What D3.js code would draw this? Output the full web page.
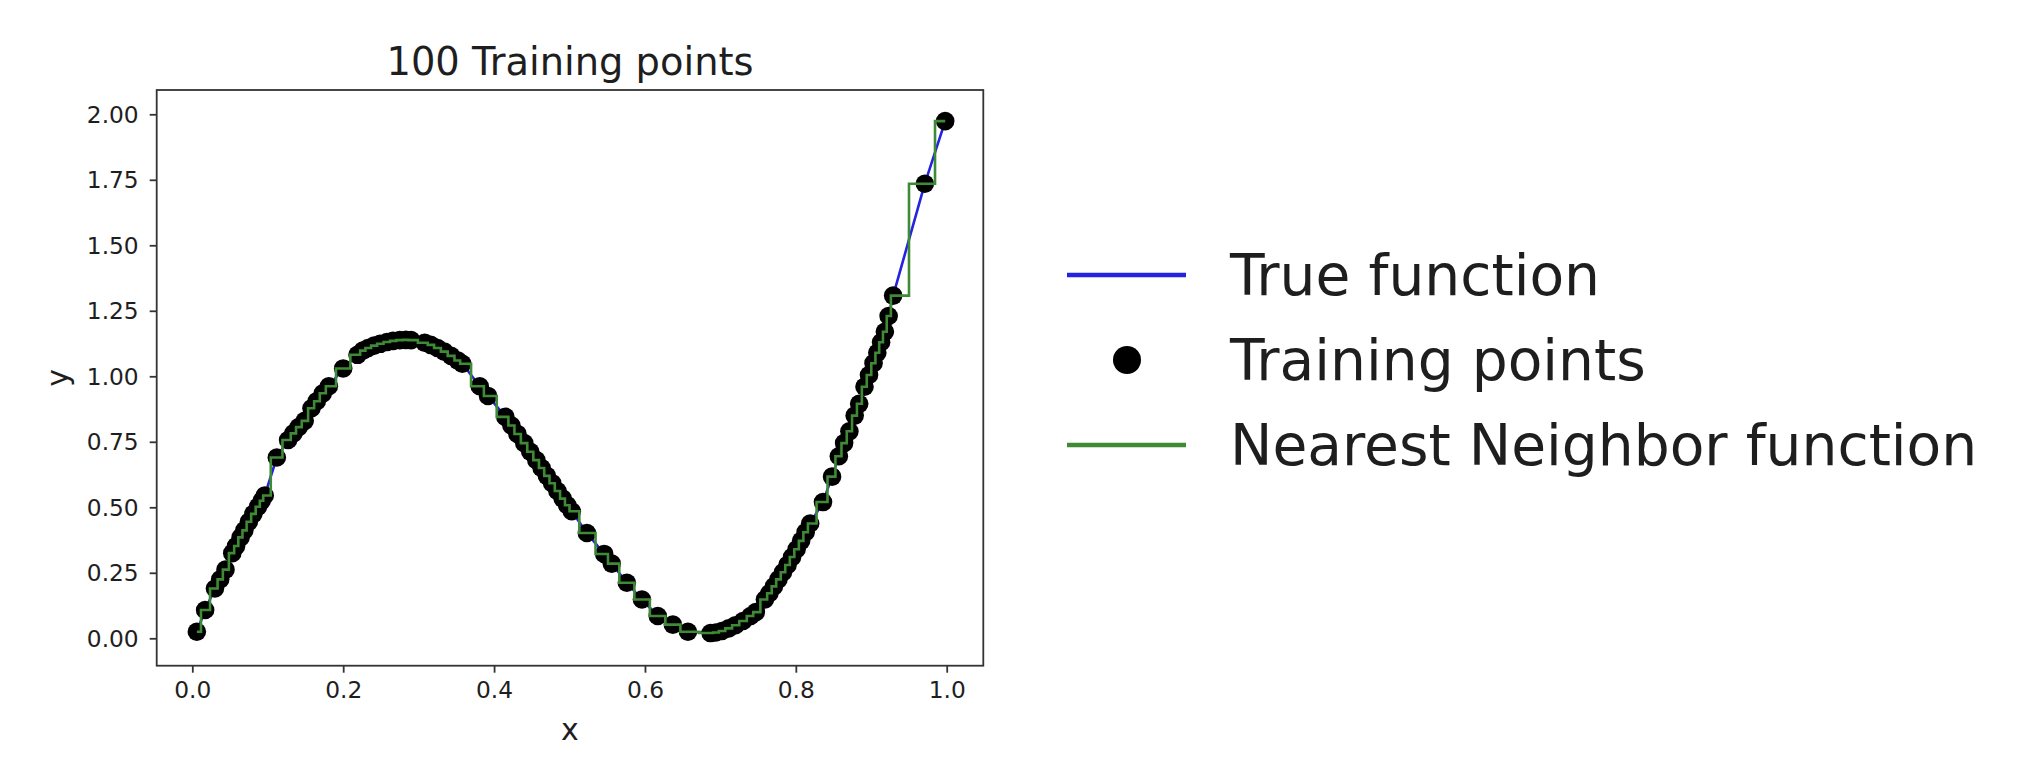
<!DOCTYPE html>
<html>
<head>
<meta charset="utf-8">
<script src="https://cdn.jsdelivr.net/npm/d3@7"></script>
<style>
  html, body { margin: 0; padding: 0; background: #ffffff; }
  svg { display: block; font-family: "DejaVu Sans", sans-serif; }
</style>
</head>
<body>
<svg id="chart" width="2034" height="784"></svg>
<script>
// ---- data ----
const trainX = [
  0.006, 0.017, 0.030, 0.037, 0.044, 0.053, 0.058, 0.064, 0.069, 0.075,
  0.081, 0.087, 0.092, 0.096, 0.112, 0.127, 0.134, 0.141, 0.149, 0.158,
  0.165, 0.173, 0.181, 0.200, 0.219, 0.226, 0.233, 0.241, 0.249, 0.258,
  0.266, 0.275, 0.283, 0.290, 0.308, 0.316, 0.325, 0.334, 0.343, 0.352,
  0.358, 0.381, 0.392, 0.415, 0.423, 0.431, 0.440, 0.448, 0.456, 0.463,
  0.470, 0.477, 0.484, 0.491, 0.497, 0.503, 0.523, 0.546, 0.556, 0.576,
  0.596, 0.617, 0.637, 0.657, 0.687, 0.694, 0.702, 0.711, 0.720, 0.730,
  0.740, 0.747, 0.759, 0.765, 0.771, 0.777, 0.783, 0.789, 0.795, 0.801,
  0.807, 0.813, 0.819, 0.836, 0.848, 0.857, 0.864, 0.871, 0.878, 0.884,
  0.891, 0.897, 0.903, 0.908, 0.913, 0.918, 0.923, 0.929, 0.971, 0.998
];
const trainY = [
  0.025, 0.108, 0.190, 0.225, 0.262, 0.325, 0.352, 0.385, 0.412, 0.445,
  0.475, 0.502, 0.525, 0.545, 0.690, 0.757, 0.782, 0.806, 0.830, 0.878,
  0.905, 0.935, 0.962, 1.030, 1.082, 1.098, 1.108, 1.117, 1.124, 1.131,
  1.135, 1.138, 1.139, 1.138, 1.128, 1.120, 1.108, 1.094, 1.078, 1.060,
  1.048, 0.962, 0.925, 0.845, 0.812, 0.780, 0.745, 0.712, 0.680, 0.650,
  0.620, 0.592, 0.562, 0.533, 0.508, 0.485, 0.402, 0.322, 0.285, 0.212,
  0.148, 0.085, 0.052, 0.025, 0.020, 0.022, 0.028, 0.038, 0.050, 0.066,
  0.085, 0.100, 0.148, 0.172, 0.198, 0.225, 0.252, 0.280, 0.310, 0.340,
  0.372, 0.405, 0.438, 0.520, 0.617, 0.695, 0.745, 0.790, 0.850, 0.895,
  0.960, 1.005, 1.050, 1.090, 1.130, 1.170, 1.230, 1.308, 1.735, 1.974
];
const xTickValues = [0.0, 0.2, 0.4, 0.6, 0.8, 1.0];
const xTickLabels = ["0.0", "0.2", "0.4", "0.6", "0.8", "1.0"];
const yTickValues = [0.0, 0.25, 0.5, 0.75, 1.0, 1.25, 1.5, 1.75, 2.0];
const yTickLabels = ["0.00", "0.25", "0.50", "0.75", "1.00", "1.25", "1.50", "1.75", "2.00"];
const legendLabels = ["True function", "Training points", "Nearest Neighbor function"];
const titleText = "100 Training points";
const xLabel = "x";
const yLabel = "y";

// ---- layout ----
const plot = { left: 156.7, right: 983.3, top: 90, bottom: 665.7 };
const colors = { blue: "#2323e0", green: "#3f8a35", dot: "#000000", frame: "#333333", text: "#1e1e1e" };

const points = trainX.map((x, i) => ({ x: x, y: trainY[i] }));

const svg = d3.select("#chart");

const x = d3.scaleLinear().domain([-0.0472, 1.0485]).range([plot.left, plot.right]);
const y = d3.scaleLinear().domain([-0.1046, 2.0927]).range([plot.bottom, plot.top]);

// clip
svg.append("defs").append("clipPath").attr("id", "clip")
  .append("rect")
  .attr("x", plot.left).attr("y", plot.top)
  .attr("width", plot.right - plot.left).attr("height", plot.bottom - plot.top);

const g = svg.append("g").attr("clip-path", "url(#clip)");

// true function (blue)
g.append("path")
  .datum(points)
  .attr("fill", "none")
  .attr("stroke", colors.blue)
  .attr("stroke-width", 2.6)
  .attr("d", d3.line().x(d => x(d.x)).y(d => y(d.y)));

// training points
g.selectAll("circle.pt")
  .data(points)
  .join("circle")
  .attr("class", "pt")
  .attr("cx", d => x(d.x))
  .attr("cy", d => y(d.y))
  .attr("r", 9.3)
  .attr("fill", colors.dot);

// nearest neighbour step function (green)
g.append("path")
  .datum(points)
  .attr("fill", "none")
  .attr("stroke", colors.green)
  .attr("stroke-width", 2.6)
  .attr("d", d3.line().curve(d3.curveStep).x(d => x(d.x)).y(d => y(d.y)));

// axes
const xAxis = d3.axisBottom(x)
  .tickValues(xTickValues)
  .tickFormat((d, i) => xTickLabels[i])
  .tickSize(7).tickPadding(9);
const yAxis = d3.axisLeft(y)
  .tickValues(yTickValues)
  .tickFormat((d, i) => yTickLabels[i])
  .tickSize(7).tickPadding(11);

const gx = svg.append("g").attr("transform", `translate(0,${plot.bottom})`).call(xAxis);
const gy = svg.append("g").attr("transform", `translate(${plot.left},0)`).call(yAxis);
[gx, gy].forEach(a => {
  a.select(".domain").remove();
  a.selectAll(".tick line").attr("stroke", colors.frame).attr("stroke-width", 1.8);
  a.selectAll(".tick text")
    .attr("fill", colors.text)
    .style("font-family", "'DejaVu Sans', sans-serif")
    .style("font-size", "23.3px");
});
gy.selectAll(".tick text").attr("dy", "0.35em");

// frame
svg.append("rect")
  .attr("x", plot.left).attr("y", plot.top)
  .attr("width", plot.right - plot.left).attr("height", plot.bottom - plot.top)
  .attr("fill", "none").attr("stroke", colors.frame).attr("stroke-width", 1.8);

// title
svg.append("text")
  .attr("x", (plot.left + plot.right) / 2).attr("y", 75)
  .attr("text-anchor", "middle")
  .attr("fill", colors.text)
  .style("font-size", "38.4px")
  .text(titleText);

// axis labels
svg.append("text")
  .attr("x", (plot.left + plot.right) / 2).attr("y", 740)
  .attr("text-anchor", "middle")
  .attr("fill", colors.text)
  .style("font-size", "30px")
  .text(xLabel);
svg.append("text")
  .attr("transform", `translate(68,${(plot.top + plot.bottom) / 2}) rotate(-90)`)
  .attr("text-anchor", "middle")
  .attr("fill", colors.text)
  .style("font-size", "30px")
  .text(yLabel);

// legend
const legendRows = [275, 360, 445];
const lg = svg.append("g");
// True function
lg.append("line")
  .attr("x1", 1067).attr("x2", 1186).attr("y1", legendRows[0]).attr("y2", legendRows[0])
  .attr("stroke", colors.blue).attr("stroke-width", 4.5);
// Training points
lg.append("circle")
  .attr("cx", 1127).attr("cy", legendRows[1]).attr("r", 14)
  .attr("fill", colors.dot);
// Nearest Neighbor function
lg.append("line")
  .attr("x1", 1067).attr("x2", 1186).attr("y1", legendRows[2]).attr("y2", legendRows[2])
  .attr("stroke", colors.green).attr("stroke-width", 4.5);

lg.selectAll("text.leg")
  .data(legendLabels)
  .join("text")
  .attr("class", "leg")
  .attr("x", 1230)
  .attr("y", (d, i) => legendRows[i] + 20)
  .attr("fill", colors.text)
  .style("font-size", "56.7px")
  .text(d => d);
</script>
</body>
</html>
